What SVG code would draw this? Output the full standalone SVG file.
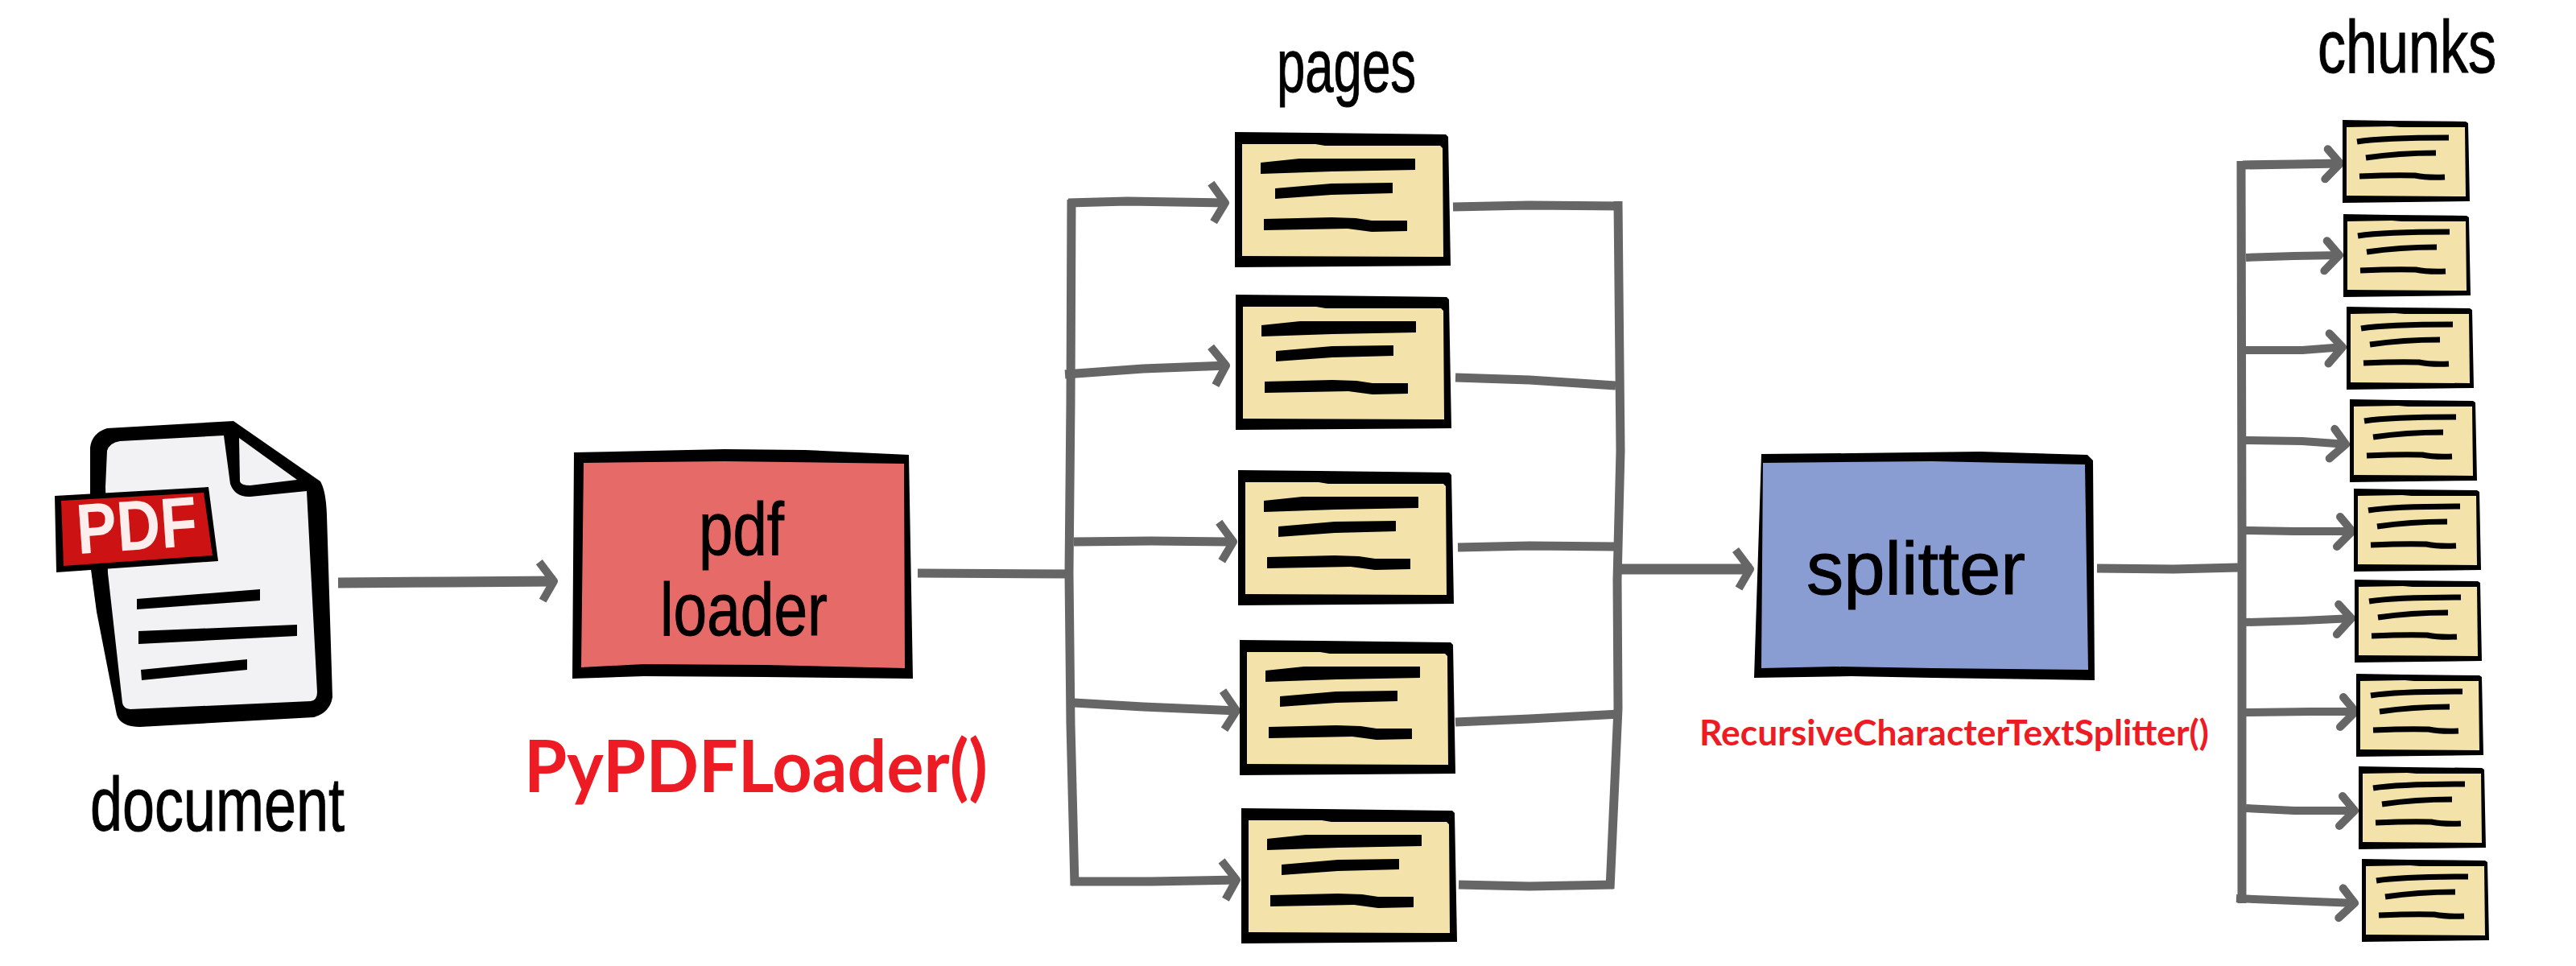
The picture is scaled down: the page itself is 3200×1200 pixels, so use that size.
<svg xmlns="http://www.w3.org/2000/svg" width="3200" height="1200" viewBox="0 0 3200 1200">
<style>
.bg{fill:#fff}
.ink{fill:#000}
.conn{fill:none;stroke:#666;stroke-width:11;stroke-linecap:butt;stroke-linejoin:round}
.thin{stroke-width:10}
.thick{stroke-width:13}
.in{marker-end:url(#head)}
.inc{marker-end:url(#headc)}
.bar{fill:none;stroke:#000;stroke-linecap:butt}
.hand{font-family:"Liberation Sans",Arial,sans-serif;font-weight:400;fill:#000;stroke:#000;stroke-width:1}
.code{font-family:Lato,"Open Sans",sans-serif;font-weight:700;fill:#ed1c24}
</style>
<defs>
<marker id="head" markerUnits="userSpaceOnUse" orient="auto" markerWidth="60" markerHeight="70" viewBox="-50 -35 60 70" refX="0" refY="0">
<path d="M-20,-24 L-2,0 L-16,24" fill="none" stroke="#666" stroke-width="10" stroke-linejoin="round"/>
</marker>
<marker id="headc" markerUnits="userSpaceOnUse" orient="auto" markerWidth="60" markerHeight="70" viewBox="-50 -35 60 70" refX="0" refY="0">
<path d="M-17,-18 L-2,0 L-21,19" fill="none" stroke="#666" stroke-width="10" stroke-linecap="round" stroke-linejoin="round"/>
</marker>
<g id="page">
<path class="ink" d="M0,0 L100,1 L262,3 L265,6 L268,166 L0,168 Z"/>
<path fill="#f3e2a9" d="M9,15 L100,15 L112,17 L255,17 L258,20 L259,155 L9,154 Z"/>
<path class="ink" d="M32,38 L80,33 L224,33 L224,47 L120,49 L32,52 Z"/>
<path class="ink" d="M50,70 L120,64 L196,63 L196,76 L120,78 L50,83 Z"/>
<path class="ink" d="M36,108 L120,106 L150,107 L170,110 L214,110 L214,123 L170,124 L140,120 L36,122 Z"/>
</g>
<g id="chunk">
<path class="ink" d="M0,0 L60,1 L153,2 L156,4 L158,101 L0,103 Z"/>
<path fill="#f3e2a9" d="M5,9 L60,8 L72,9 L152,9 L153,95 L5,94 Z"/>
<path class="bar" stroke-width="7" d="M18,27 Q50,22 132,22"/>
<path class="bar" stroke-width="7" d="M29,47 Q70,41 116,41"/>
<path class="bar" stroke-width="7" d="M21,70 Q65,68 90,69 Q105,72 127,71"/>
</g>
</defs>
<rect class="bg" width="3200" height="1200"/>

<g id="connectors">
<path class="conn thick" d="M420,724 L560,723 L690,722" marker-end="url(#head)"/>
<path class="conn" d="M1140,712 L1330,713"/>
<path class="conn" d="M1331,248 L1330,500 L1328,712 L1330,900 L1335,1100"/>
<path class="conn in" d="M1327,252 L1400,250 L1524,252"/>
<path class="conn in" d="M1323,465 L1420,458 L1525,454"/>
<path class="conn in" d="M1334,673 L1430,672 L1534,673"/>
<path class="conn in" d="M1334,873 L1420,878 L1538,883"/>
<path class="conn in" d="M1331,1095 L1430,1095 L1538,1093"/>
<path class="conn" d="M1805,257 L1900,255 L2015,256"/>
<path class="conn" d="M1808,469 L1900,472 L2007,479"/>
<path class="conn" d="M1811,680 L1900,678 L2007,679"/>
<path class="conn" d="M1808,897 L1900,893 L2012,887"/>
<path class="conn" d="M1812,1099 L1900,1101 L2004,1099"/>
<path class="conn" d="M2010,250 L2013,560 L2009,720 L2010,880 L2000,1104"/>
<path class="conn thick" d="M2013,707 L2176,707" marker-end="url(#head)"/>
<path class="conn" d="M2605,706 L2700,707 L2780,705"/>
<path class="conn" d="M2784,200 L2785,660 L2785,1122"/>
<path class="conn inc" d="M2786,205 L2850,204 L2909,203"/>
<path class="conn thin inc" d="M2790,320 L2850,318 L2908,317"/>
<path class="conn thin inc" d="M2790,435 L2860,435 L2912,431"/>
<path class="conn thin inc" d="M2790,547 L2860,548 L2916,552"/>
<path class="conn thin inc" d="M2790,659 L2850,660 L2924,660"/>
<path class="conn thin inc" d="M2790,773 L2860,771 L2923,768"/>
<path class="conn thin inc" d="M2790,885 L2870,884 L2928,884"/>
<path class="conn thin inc" d="M2790,1004 L2850,1007 L2927,1007"/>
<path class="conn thin inc" d="M2778,1116 L2850,1119 L2927,1122"/>
</g>

<g id="document">
<path class="ink" d="M112,605 L112,556 Q114,538 133,532 L290,523 L398,598 Q405,610 406,640 L413,866 Q410,885 390,891 L174,903 Q150,903 145,888 L120,760 L112,700 Z"/>
<path fill="#f2f1f3" d="M131,605 L133,560 Q136,550 149,548 L278,541 L286,601 Q292,618 311,617 L381,610 L394,860 Q394,870 386,871 L162,881 Q153,880 152,873 L134,712 Z"/>
<path fill="#f2f1f3" d="M297,544 L369,596 L311,603 Q299,603 298,598 Z"/>
<path class="ink" d="M170,744 L323,732 L323,746 L170,757 Z"/>
<path class="ink" d="M172,784 L369,776 L369,790 L172,800 Z"/>
<path class="ink" d="M175,832 L307,819 L307,832 L176,845 Z"/>
<path class="ink" d="M68,616 L259,605 L271,697 L70,711 Z"/>
<path fill="#cc1212" d="M76,622 L253,612 L264,690 L79,703 Z"/>
<text transform="translate(97,688) rotate(-4)" font-family="Liberation Sans,Arial,sans-serif" font-weight="700" font-size="88" fill="#fdeeee" textLength="150" lengthAdjust="spacingAndGlyphs">PDF</text>
<text class="hand" x="112" y="1032" font-size="94" textLength="316" lengthAdjust="spacingAndGlyphs">document</text>
</g>

<g id="pdf-loader">
<path class="ink" d="M713,562 L900,558 L1000,559 L1129,565 L1134,843 L950,841 L800,840 L711,843 Z"/>
<path fill="#e66a68" d="M725,575 L900,573 L1123,576 L1124,830 L950,826 L800,825 L722,829 Z"/>
<text class="hand" x="868" y="689" font-size="92" textLength="106" lengthAdjust="spacingAndGlyphs">pdf</text>
<text class="hand" x="820" y="789" font-size="92" textLength="208" lengthAdjust="spacingAndGlyphs">loader</text>
</g>
<text id="loader-code" class="code" x="651" y="984" font-size="90" textLength="576" lengthAdjust="spacingAndGlyphs">PyPDFLoader()</text>

<g id="pages">
<text class="hand" x="1586" y="114" font-size="92" textLength="173" lengthAdjust="spacingAndGlyphs">pages</text>
<use id="page-1" href="#page" x="1534" y="164"/>
<use id="page-2" href="#page" x="1535" y="366"/>
<use id="page-3" href="#page" x="1538" y="584"/>
<use id="page-4" href="#page" x="1540" y="795"/>
<use id="page-5" href="#page" x="1542" y="1004"/>
</g>

<g id="splitter">
<path class="ink" d="M2188,564 L2300,563 L2460,561 L2593,565 L2600,572 L2602,845 L2400,842 L2300,840 L2179,842 Z"/>
<path fill="#8a9dd2" d="M2190,575 L2400,573 L2590,577 L2594,832 L2400,830 L2280,828 L2188,830 Z"/>
<text class="hand" x="2244" y="738" font-size="92" textLength="272" lengthAdjust="spacingAndGlyphs">splitter</text>
</g>
<text id="splitter-code" class="code" x="2111" y="926" font-size="44" textLength="633" lengthAdjust="spacingAndGlyphs">RecursiveCharacterTextSplitter()</text>

<g id="chunks">
<text class="hand" x="2879" y="90" font-size="92" textLength="222" lengthAdjust="spacingAndGlyphs">chunks</text>
<use id="chunk-1" href="#chunk" x="2910" y="149"/>
<use id="chunk-2" href="#chunk" x="2911" y="266"/>
<use id="chunk-3" href="#chunk" x="2915" y="381"/>
<use id="chunk-4" href="#chunk" x="2919" y="496"/>
<use id="chunk-5" href="#chunk" x="2924" y="607"/>
<use id="chunk-6" href="#chunk" x="2925" y="720"/>
<use id="chunk-7" href="#chunk" x="2927" y="837"/>
<use id="chunk-8" href="#chunk" x="2930" y="952"/>
<use id="chunk-9" href="#chunk" x="2934" y="1067"/>
</g>
</svg>
